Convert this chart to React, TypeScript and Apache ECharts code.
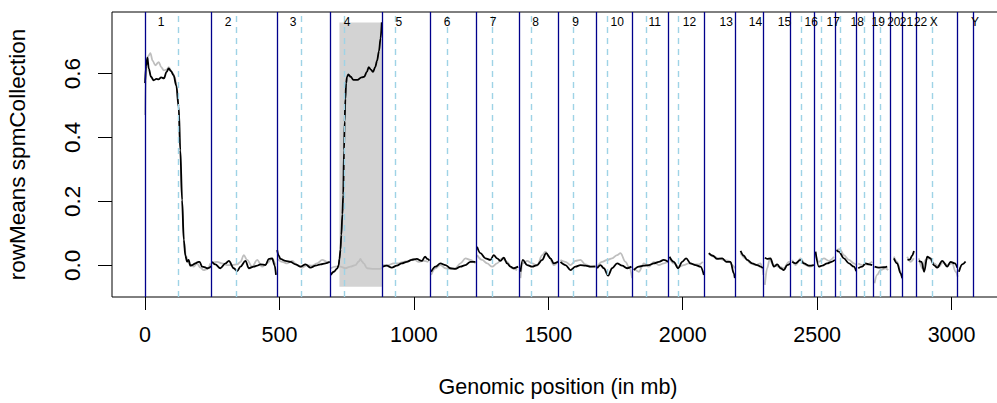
import React, { useEffect, useRef } from "react";
import * as echarts from "echarts";

// Chromosome layout (cumulative genomic position in mb)
const chromNames = ["1","2","3","4","5","6","7","8","9","10","11","12","13","14","15","16","17","18","19","20","21","22","X","Y"];
const chromBoundaries = [0, 247.25, 490.2, 689.7, 880.97, 1061.83, 1232.73, 1391.53, 1537.8, 1678.07, 1813.44, 1947.89, 2080.24, 2194.38, 2300.75, 2401.09, 2489.92, 2568.69, 2644.81, 2708.62, 2771.06, 2818.0, 2867.69, 3022.6, 3080.37];
const centromeres = [123, 340, 581, 740, 929, 1123.5, 1291.5, 1437, 1591, 1719, 1866, 1983.5, 2441, 2514, 2587, 2674, 2736, 2928];
const labelPositions = [59.5, 308.8, 550.7, 751.6, 943.6, 1123.6, 1294.8, 1452.2, 1601, 1756.2, 1896, 2025.2, 2161.7, 2270.7, 2378.6, 2478, 2559.8, 2649.1, 2727.2, 2785.3, 2832.5, 2884.6, 2934.1, 3086.7];

// Highlighted region [xStart, xEnd, yBottom, yTop]
const highlightRegion = [723, 880.97, -0.067, 0.76];

// Axis ticks
const xTicks = [0, 500, 1000, 1500, 2000, 2500, 3000];
const yTicks = [0, 0.2, 0.4, 0.6];

// rowMeans (black) — null marks a break between chromosomes
const blackLine: (number[] | null)[] = [
  [0,0.57],[4,0.625],[8.7,0.65],[14,0.615],[22,0.59],[32,0.579],[42,0.583],[50,0.582],[60,0.588],[70,0.585],[80,0.605],[88,0.616],[96,0.608],[106,0.595],[116,0.563],[125,0.496],[131,0.36],[137.6,0.205],[144,0.08],[150,0.03],[156,0.012],[162,0.017],[168.5,-0.001],[175,0.001],[187,0.006],[196,0.01],[203,0.011],[212,-0.004],[222,-0.006],[230.6,-0.009],[238,-0.008],[245,-0.002],
  null,
  [249,0.011],[261.5,0.003],[280,-0.009],[299,0.006],[311.6,0.014],[330,-0.009],[342.5,-0.018],[354.9,-0.004],[373.5,0.014],[385.9,-0.009],[404.5,-0.004],[416.9,-0.001],[429.3,0.003],[447.9,0.001],[460.3,0.02],[472.7,0.022],[482,0.0],[487,-0.03],
  null,
  [491.4,0.048],[497,0.03],[503.8,0.02],[522.4,0.014],[541,0.011],[559.6,0.003],[578.2,-0.004],[596.8,0.003],[615.4,-0.007],[634,-0.001],[652.6,0.003],[671.2,0.006],[687.3,0.011],
  null,
  [690.7,-0.03],[701.9,-0.02],[714.3,-0.01],[720,0.0],[723,0.02],[727,0.05],[730,0.095],[734,0.16],[737,0.22],[740,0.36],[742.5,0.45],[745,0.52],[748,0.57],[751,0.589],[756,0.597],[765,0.59],[775,0.58],[790,0.58],[805,0.588],[815,0.59],[825,0.605],[832,0.62],[840,0.612],[848,0.605],[856,0.62],[863,0.64],[870,0.67],[876,0.71],[880.5,0.76],
  null,
  [884,-0.004],[899,-0.001],[917.6,-0.007],[936.2,-0.001],[954.8,0.006],[973.4,0.011],[992,0.017],[1010.6,0.02],[1029.2,0.014],[1041.6,0.027],[1050,0.02],[1058,0.015],
  null,
  [1064,-0.02],[1080,-0.004],[1098.7,0.006],[1117.3,0.001],[1136,-0.009],[1154.5,-0.011],[1173.1,-0.004],[1191.7,0.001],[1210.3,0.011],[1229,0.011],
  null,
  [1235,0.058],[1247.5,0.038],[1266,0.022],[1284.7,0.017],[1297,0.032],[1309.5,0.022],[1322,0.014],[1334.3,0.024],[1346.8,0.006],[1359,-0.004],[1371.6,-0.009],[1387.7,-0.004],
  null,
  [1396.3,-0.02],[1405,0.017],[1421.2,0.001],[1439.8,-0.004],[1458.5,0.001],[1477,0.017],[1491.9,0.038],[1508,0.022],[1520.4,0.006],[1536.5,0.011],
  null,
  [1545.2,0.011],[1563.8,0.001],[1582.4,-0.015],[1601,-0.004],[1619.6,0.001],[1638.2,-0.001],[1656.8,-0.004],[1675.4,-0.004],
  null,
  [1681.6,-0.009],[1694,0.001],[1706.4,-0.009],[1722.5,-0.032],[1737.4,-0.009],[1756,0.006],[1774.6,-0.001],[1793.2,-0.009],[1809.4,-0.004],
  null,
  [1818,-0.015],[1836.6,-0.004],[1855.3,-0.001],[1873.9,0.001],[1892.5,0.006],[1911.1,0.011],[1929.6,0.017],[1945.8,0.011],
  null,
  [1950.7,0.027],[1966.8,0.011],[1983,-0.009],[1997.9,0.011],[2012.7,0.022],[2029,0.006],[2047.5,0.001],[2066,-0.004],[2078.5,-0.03],
  null,
  [2097,0.038],[2112,0.03],[2128,0.02],[2146.7,0.022],[2161.6,0.011],[2177.7,0.011],[2190,-0.025],[2193.8,-0.04],
  null,
  [2215,0.045],[2227.3,0.03],[2239.7,0.017],[2258.3,0.006],[2276.9,0.001],[2289.3,-0.004],[2298,-0.009],
  null,
  [2305.5,0.024],[2314,0.02],[2326.5,0.022],[2338.9,-0.004],[2351.3,0.003],[2363.7,-0.009],[2376,-0.015],[2388.5,0.001],[2401,0.006],
  null,
  [2407,0.011],[2419.5,0.006],[2438,0.017],[2450.6,0.006],[2469.2,-0.001],[2487.8,0.001],
  null,
  [2494,0.043],[2506.4,-0.004],[2518.8,-0.001],[2537.4,0.006],[2553.5,0.011],[2566,0.017],
  null,
  [2572,0.048],[2580.8,0.043],[2599.4,0.022],[2618,0.006],[2636.6,-0.004],[2645,-0.018],
  null,
  [2652.7,-0.009],[2667.6,-0.004],[2680,0.006],[2692.4,0.003],[2704.8,0.001],
  null,
  [2713.5,-0.004],[2729.8,-0.007],[2748,-0.006],[2760.6,-0.004],
  null,
  [2785.4,0.022],[2797.7,0.006],[2810.2,-0.025],[2816.4,-0.04],
  null,
  [2836,0.017],[2845,0.018],[2853,0.03],[2860,0.045],
  null,
  [2878.4,0.014],[2888.3,0.011],[2898,-0.02],[2909.4,0.027],[2921.8,0.022],[2934.2,0.001],[2946.6,-0.007],[2965.3,0.014],[2984,-0.004],[2996.2,0.011],[3012.4,0.006],[3021,-0.007],
  null,
  [3027.3,-0.02],[3039.7,0.003],[3052,0.012],
];

// spmCollection reference (grey)
const greyLine: (number[] | null)[] = [
  [0,0.47],[3,0.58],[6,0.63],[12,0.655],[19.8,0.664],[28,0.64],[38,0.626],[50.8,0.636],[60,0.62],[69.5,0.61],[80,0.612],[88,0.62],[100,0.605],[110,0.59],[118,0.56],[125,0.49],[131,0.37],[138,0.2],[145,0.07],[152,0.03],[160,0.01],[168.5,0.001],[181,-0.004],[193,0.006],[206,-0.007],[218,-0.015],[231,-0.012],[243,0.006],
  null,
  [249,0.009],[268,0.011],[286.7,0.006],[305.3,0.001],[324,0.001],[342.5,0.003],[355,0.011],[367.3,0.032],[379.7,0.017],[398.3,-0.004],[416.9,0.017],[435.5,-0.004],[454,0.006],[472.7,0.022],[485,0.001],
  null,
  [491,0.022],[510,0.011],[528.7,0.006],[547.3,0.014],[566,0.001],[584.5,-0.007],[603,0.001],[621.7,-0.001],[640.3,0.006],[659,0.017],[677.5,0.011],[687.3,0.009],
  null,
  [690.7,-0.009],[708,-0.004],[726.6,-0.004],[745,-0.009],[763.8,-0.004],[782.4,0.001],[795,0.012],[801,0.02],[807,0.012],[813.4,0.006],[825.8,-0.009],[850.6,-0.011],[875.4,-0.011],[880,-0.007],
  null,
  [884,0.001],[905,0.001],[924,0.006],[943,0.006],[961,0.011],[979.6,0.014],[998.2,0.02],[1016.8,0.011],[1035.4,0.014],[1054,0.011],
  null,
  [1064,-0.03],[1080,-0.009],[1098.7,0.001],[1117.3,-0.009],[1136,-0.011],[1154.5,-0.009],[1173,0.006],[1191.7,0.022],[1210.3,0.017],[1229,0.006],
  null,
  [1235,0.032],[1253.7,0.017],[1272.3,0.006],[1290.9,-0.004],[1309.5,0.006],[1328.2,0.022],[1346.8,0.011],[1365.3,-0.009],[1384,-0.015],
  null,
  [1396.3,-0.04],[1405,0.006],[1421,0.014],[1439.8,0.006],[1458.5,-0.001],[1477,0.032],[1489.4,0.043],[1501.8,0.027],[1520.4,0.001],[1536.5,0.014],
  null,
  [1545,0.017],[1563.8,0.011],[1582.4,0.001],[1601,0.014],[1619.6,0.017],[1638.2,0.003],[1656.8,-0.004],[1675.4,-0.001],
  null,
  [1681.6,-0.004],[1700.2,0.011],[1718.8,0.017],[1737.4,0.022],[1756,0.032],[1768.4,0.038],[1787,0.011],[1801.9,-0.009],[1811.8,-0.04],
  null,
  [1818,-0.009],[1836.6,-0.02],[1855.3,0.006],[1873.9,-0.004],[1892.5,0.011],[1911.1,0.001],[1929.6,0.006],[1945.8,0.011],
  null,
  [1950.7,0.022],[1966.8,0.006],[1985,-0.004],[2004,0.001],[2022,0.006],[2041,0.003],[2060,0.003],[2074.7,0.011],
  null,
  [2097,0.035],[2115.7,0.027],[2134.3,0.022],[2153,0.017],[2171.5,0.014],[2184,0.001],[2194,-0.009],
  null,
  [2215,0.038],[2233.5,0.022],[2252,0.006],[2270.7,0.001],[2289.3,0.006],[2296,-0.009],[2300,-0.03],
  null,
  [2305.5,-0.061],[2314,-0.009],[2322.8,0.017],[2339,0.001],[2357.5,-0.004],[2376,-0.009],[2394.8,0.011],[2400,0.008],
  null,
  [2407,0.017],[2419.5,0.001],[2438,0.022],[2456.8,0.001],[2475.4,-0.004],[2487.8,0.003],
  null,
  [2494,0.032],[2506.4,0.011],[2525,0.022],[2543.6,0.014],[2562.2,0.027],
  null,
  [2572,0.048],[2584.5,0.051],[2599.4,0.032],[2618,0.017],[2636.6,0.006],[2645,0.001],
  null,
  [2652.7,0.006],[2667.6,0.001],[2686,0.003],[2704.8,0.011],
  null,
  [2713.5,-0.056],[2723,-0.03],[2735,-0.015],[2754,-0.009],[2764,-0.015],
  null,
  [2785.4,0.027],[2797.7,0.011],[2810.2,-0.02],[2816.4,-0.043],
  null,
  [2835,0.027],[2847,0.011],[2859.6,0.022],
  null,
  [2878.4,0.022],[2890.7,-0.009],[2903,0.017],[2915.6,0.022],[2934.2,0.006],[2952.8,-0.004],[2967.7,0.009],[2983.9,0.001],[3002.5,0.006],[3014.9,-0.02],[3023,-0.036],
  null,
  [3027.3,-0.02],[3039.7,0.003],[3050,0.01],
];

const FONT = "'Liberation Sans', Arial, Helvetica, sans-serif";

function toSeriesData(points: (number[] | null)[]) {
  return points.map((p, i) => {
    if (p) return p;
    const prev = points[i - 1] as number[];
    return [prev[0] + 0.5, "-"];
  });
}

export default function App() {
  const ref = useRef<HTMLDivElement>(null);
  useEffect(() => {
    if (!ref.current) return;
    const chart = echarts.init(ref.current, null, { renderer: "svg" });
    const X_MIN = -123;
    const X_MAX = 3195;
    const option: any = {
      animation: false,
      textStyle: { fontFamily: FONT, color: "#000" },
      grid: {
        left: 112,
        right: -7,
        top: 12,
        bottom: 106,
        containLabel: false,
        outerBoundsMode: "none",
        show: true,
        borderColor: "#000",
        borderWidth: 1,
        backgroundColor: "transparent",
      },
      xAxis: [
        {
          type: "value",
          position: "bottom",
          min: X_MIN,
          max: X_MAX,
          splitLine: { show: false },
          axisLine: { show: false, onZero: false },
          axisTick: { show: true, customValues: xTicks, length: 13, lineStyle: { color: "#000", width: 1 } },
          axisLabel: {
            customValues: xTicks,
            margin: 27,
            fontSize: 21.5,
            color: "#000",
            fontFamily: FONT,
            formatter: (v: number) => String(v),
          },
          name: "Genomic position (in mb)",
          nameLocation: "middle",
          nameGap: 79,
          nameTextStyle: { fontSize: 21.5, color: "#000", fontFamily: FONT },
        },
        {
          type: "value",
          position: "top",
          min: X_MIN,
          max: X_MAX,
          z: 10,
          splitLine: { show: false },
          axisLine: { show: false, onZero: false },
          axisTick: { show: false },
          axisLabel: {
            inside: true,
            customValues: labelPositions,
            margin: 4,
            fontSize: 12,
            color: "#000",
            fontFamily: FONT,
            formatter: (v: number) => {
              const i = labelPositions.indexOf(v);
              return i >= 0 ? chromNames[i] : "";
            },
          },
        },
      ],
      yAxis: {
        type: "value",
        min: -0.099,
        max: 0.7925,
        splitLine: { show: false },
        axisLine: { show: false, onZero: false },
        axisTick: { show: true, customValues: yTicks, length: 14, lineStyle: { color: "#000", width: 1 } },
        axisLabel: {
          customValues: yTicks,
          rotate: 90,
          margin: 28,
          fontSize: 22.5,
          color: "#000",
          fontFamily: FONT,
          formatter: (v: number) => v.toFixed(1),
        },
        name: "rowMeans spmCollection",
        nameLocation: "middle",
        nameGap: 83,
        nameRotate: 90,
        nameTextStyle: { fontSize: 22.5, color: "#000", fontFamily: FONT },
      },
      series: [
        {
          type: "line",
          data: [],
          z: 1,
          silent: true,
          markLine: {
            silent: true,
            symbol: ["none", "none"],
            label: { show: false },
            lineStyle: { color: "#9ED3E6", width: 1.4, type: [6, 5] },
            data: centromeres.map((v) => ({ xAxis: v })),
          },
        },
        {
          type: "line",
          data: [],
          z: 1,
          silent: true,
          markLine: {
            silent: true,
            symbol: ["none", "none"],
            label: { show: false },
            lineStyle: { color: "#00008B", width: 1.3, type: "solid" },
            data: chromBoundaries.map((v) => ({ xAxis: v })),
          },
        },
        {
          type: "line",
          data: [],
          z: 2,
          silent: true,
          markArea: {
            silent: true,
            itemStyle: { color: "#D3D3D3", opacity: 1 },
            data: [[
              { xAxis: highlightRegion[0], yAxis: highlightRegion[2] },
              { xAxis: highlightRegion[1], yAxis: highlightRegion[3] },
            ]],
          },
        },
        {
          type: "line",
          name: "spmCollection",
          data: toSeriesData(greyLine),
          z: 3,
          showSymbol: false,
          smooth: 0.35,
          smoothMonotone: "x",
          connectNulls: false,
          lineStyle: { color: "#BEBEBE", width: 1.8 },
          silent: true,
        },
        {
          type: "line",
          name: "rowMeans",
          data: toSeriesData(blackLine),
          z: 4,
          showSymbol: false,
          smooth: 0.35,
          smoothMonotone: "x",
          connectNulls: false,
          lineStyle: { color: "#000000", width: 1.8 },
          silent: true,
        },
      ],
    };
    chart.setOption(option);
    return () => chart.dispose();
  }, []);
  return (
    <div
      ref={ref}
      style={{ position: "absolute", left: 0, top: 0, width: 997, height: 403, background: "#fff" }}
    />
  );
}
